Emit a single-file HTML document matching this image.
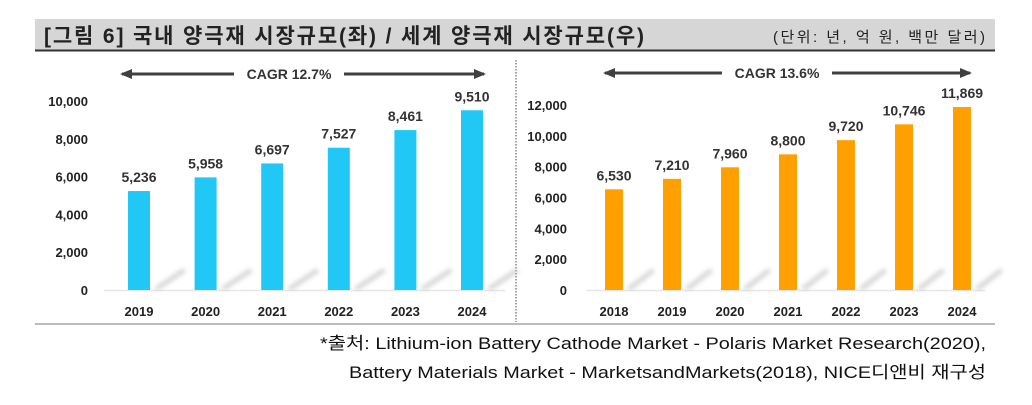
<!DOCTYPE html>
<html><head><meta charset="utf-8">
<style>
html,body{margin:0;padding:0;background:#fff;}
svg{display:block;}
text{font-family:"Liberation Sans","Noto Sans CJK KR",sans-serif;}
</style></head>
<body>
<svg id="chart" width="1032" height="405" viewBox="0 0 1032 405" xmlns="http://www.w3.org/2000/svg">
<defs>
<filter id="blur" x="-50%" y="-50%" width="200%" height="200%"><feGaussianBlur stdDeviation="2"/></filter>
<marker id="ah" markerUnits="userSpaceOnUse" markerWidth="12" markerHeight="10" refX="10" refY="5" orient="auto"><path d="M0,0 L12,5 L0,10 z" fill="#404040"/></marker>
</defs>
<rect x="35" y="19" width="960" height="31" fill="#d6d6d6"/>
<line x1="35" y1="50.5" x2="995" y2="50.5" stroke="#333" stroke-width="2"/>
<text x="44" y="43" font-size="21" font-weight="bold" fill="#222" textLength="600" lengthAdjust="spacing">[그림 6] 국내 양극재 시장규모(좌) / 세계 양극재 시장규모(우)</text>
<text x="985" y="42" font-size="15" fill="#222" text-anchor="end" textLength="212" lengthAdjust="spacing">(단위: 년, 억 원, 백만 달러)</text>
<line x1="516" y1="60" x2="516" y2="322" stroke="#444" stroke-width="1" stroke-dasharray="1.5,1.5"/>
<line x1="35" y1="324" x2="995" y2="324" stroke="#bbb" stroke-width="2"/>
<g id="left"></g>
<g id="right"></g>
<text x="986" y="349" font-size="17" fill="#111" text-anchor="end" textLength="666" lengthAdjust="spacingAndGlyphs">*출처: Lithium-ion Battery Cathode Market - Polaris Market Research(2020),</text>
<text x="986" y="378" font-size="17" fill="#111" text-anchor="end" textLength="637" lengthAdjust="spacingAndGlyphs">Battery Materials Market - MarketsandMarkets(2018), NICE디앤비 재구성</text>
</svg>
<script>
const leftYears = ["2019","2020","2021","2022","2023","2024"];
const leftValues = [5236,5958,6697,7527,8461,9510];
const leftTicks = [0,2000,4000,6000,8000,10000];
const leftCagr = "CAGR 12.7%";
const rightYears = ["2018","2019","2020","2021","2022","2023","2024"];
const rightValues = [6530,7210,7960,8800,9720,10746,11869];
const rightTicks = [0,2000,4000,6000,8000,10000,12000];
const rightCagr = "CAGR 13.6%";

const NS = "http://www.w3.org/2000/svg";
function mk(parent, tag, attrs, txt){
  const e = document.createElementNS(NS, tag);
  for (const k in attrs) e.setAttribute(k, attrs[k]);
  if (txt !== undefined) e.textContent = txt;
  parent.appendChild(e); return e;
}
function fmt(v){ return v.toLocaleString("en-US"); }

function drawChart(g, cfg){
  const y = v => cfg.base - (v / cfg.ymax) * (cfg.base - cfg.top);
  const x = i => cfg.x0 + i * cfg.step;
  const ax = mk(g, "line", {x1: cfg.axL, x2: cfg.axR, y1: cfg.base + 0.5, y2: cfg.base + 0.5, stroke: "#e6e6e6", "stroke-width": 1.5});
  
  
  cfg.ticks.forEach(t => {
    const tl = mk(g, "text", {x: cfg.tickX, y: y(t) + 5, "font-size": 13, "font-weight": "bold", fill: "#222", "text-anchor": "end"}, fmt(t));
    
    
  });
  cfg.values.forEach((v, i) => {
    const cx = x(i);
    const sx = cx + cfg.bw/2 + 3;
    const sh = mk(g, "path", {d: `M${sx},${cfg.base - 2} L${sx + cfg.step*0.45},${cfg.base - 22} L${sx + cfg.step*0.5},${cfg.base - 18} L${sx + 6},${cfg.base}`, fill: "#c8c8c8", filter: "url(#blur)", opacity: 0.7});
    
    
    const b = mk(g, "rect", {x: cx - cfg.bw/2, y: y(v), width: cfg.bw, height: cfg.base - y(v), fill: cfg.color});
    
    
    const lb = mk(g, "text", {x: cx, y: y(v) - 9, "font-size": 14, "font-weight": "bold", fill: "#333", "text-anchor": "middle"}, fmt(v));
    
    
    const xl = mk(g, "text", {x: cx, y: cfg.base + 26, "font-size": 13, "font-weight": "bold", fill: "#222", "text-anchor": "middle"}, cfg.cats[i]);
    
    
  });
  const a1 = mk(g, "line", {x1: cfg.arrC - 55, y1: cfg.arrY, x2: cfg.arrL, y2: cfg.arrY, stroke: "#404040", "stroke-width": 3, "marker-end": "url(#ah)"});
  
  
  const a2 = mk(g, "line", {x1: cfg.arrC + 55, y1: cfg.arrY, x2: cfg.arrR, y2: cfg.arrY, stroke: "#404040", "stroke-width": 3, "marker-end": "url(#ah)"});
  
  
  const ct = mk(g, "text", {x: cfg.arrC, y: cfg.arrY + 5, "font-size": 14, "font-weight": "bold", fill: "#333", "text-anchor": "middle"}, cfg.cagr);
  
  
}

drawChart(document.getElementById("left"), {
  cats: leftYears, values: leftValues, ticks: leftTicks, cagr: leftCagr,
  base: 290, top: 101, ymax: 10000, x0: 139, step: 66.6, bw: 22, color: "#22c8f5",
  axL: 104, axR: 505, tickX: 88, arrY: 74, arrL: 122, arrR: 484, arrC: 289
});
drawChart(document.getElementById("right"), {
  cats: rightYears, values: rightValues, ticks: rightTicks, cagr: rightCagr,
  base: 290, top: 105, ymax: 12000, x0: 614, step: 58, bw: 18, color: "#ff9f00",
  axL: 586, axR: 985, tickX: 567, arrY: 73, arrL: 605, arrR: 970, arrC: 777
});
</script>
</body></html>
